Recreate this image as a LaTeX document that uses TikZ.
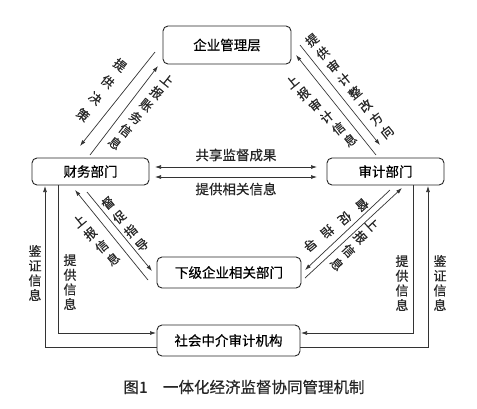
\documentclass[tikz,border=0pt]{standalone}
\usepackage{fontspec}
\setmainfont{Noto Sans CJK SC}[FakeBold=0.5]
\usetikzlibrary{arrows.meta,calc}
\newcommand\charsalong[6]{%
  \foreach \c [count=\i] in {#6} {%
    \node[lab, dlab, rotate=#4] (#1-\i) at ($(#2)!{(\i-1)/(#5-1)}!(#3)$) {\c};%
  }%
}
\begin{document}
\begin{tikzpicture}[x=1pt,y=-1pt,
  box/.style={draw=black!85, line width=0.9pt, rounded corners=5pt, inner sep=0pt, font=\fontsize{13.5}{16}\selectfont},
  conn/.style={draw=black!80, line width=0.7pt},
  arr/.style={conn, -{Latex[length=6pt,width=4pt]}},
  darr/.style={conn, {Latex[length=6pt,width=4pt]}-{Latex[length=6pt,width=4pt]}},
  lab/.style={inner sep=0pt, align=center, text=black!85},
  dlab/.style={font=\fontsize{12.5}{15}\selectfont},
  vlab/.style={font=\fontsize{13}{14.7}\selectfont},
]
\useasboundingbox (0,0) rectangle (477,408);
% boxes
\node[box, minimum width=128pt, minimum height=38pt] (mgmt) at (227,45) {企业管理层};
\node[box, minimum width=117pt, minimum height=27pt] (fin) at (90.5,171.5) {财务部门};
\node[box, minimum width=117pt, minimum height=27pt] (aud) at (385.5,171.5) {审计部门};
\node[box, minimum width=144pt, minimum height=31pt] (sub) at (229,272.5) {下级企业相关部门};
\node[box, minimum width=143pt, minimum height=31pt] (agc) at (228.5,340.5) {社会中介审计机构};
% connector end points
\coordinate (h1a) at (155,167); \coordinate (h1b) at (317,167);
\coordinate (h2a) at (155,177); \coordinate (h2b) at (317,177);
\coordinate (ul1a) at (155,52); \coordinate (ul1b) at (80,146);
\coordinate (ul2a) at (90,155); \coordinate (ul2b) at (158,66);
\coordinate (ur1a) at (300,45); \coordinate (ur1b) at (380,145);
\coordinate (ur2a) at (376,155); \coordinate (ur2b) at (296,55);
\coordinate (ll1a) at (87,192); \coordinate (ll1b) at (152,271);
\coordinate (ll2a) at (148,280); \coordinate (ll2b) at (75,190);
\coordinate (lr1a) at (390,190); \coordinate (lr1b) at (305,270);
\coordinate (lr2a) at (305,278); \coordinate (lr2b) at (402,188);
\coordinate (vl1a) at (157,347); \coordinate (vl1b) at (45,186);
\coordinate (vl2a) at (58,185); \coordinate (vl2b) at (156,333);
\coordinate (vr1a) at (413,185); \coordinate (vr1b) at (301,333);
\coordinate (vr2a) at (300,347); \coordinate (vr2b) at (428,186);
% connectors
\draw[darr] (h1a) -- (h1b);
\draw[darr] (h2a) -- (h2b);
\draw[arr] (ul1a) -- (ul1b);
\draw[arr] (ul2a) -- (ul2b);
\draw[arr] (ur1a) -- (ur1b);
\draw[arr] (ur2a) -- (ur2b);
\draw[arr] (ll1a) -- (ll1b);
\draw[arr] (ll2a) -- (ll2b);
\draw[arr] (lr1a) -- (lr1b);
\draw[arr] (lr2a) -- (lr2b);
\draw[arr] (vl1a) -| (vl1b);
\draw[arr] (vl2a) |- (vl2b);
\draw[arr] (vr1a) |- (vr1b);
\draw[arr] (vr2a) -| (vr2b);
% label anchor points (first and last character)
\coordinate (t3a) at (120,65);  \coordinate (t3b) at (83,115);
\coordinate (t4a) at (167,80);  \coordinate (t4b) at (115,143);
\coordinate (t5a) at (312,40);  \coordinate (t5b) at (387,132);
\coordinate (t6a) at (292,82);  \coordinate (t6b) at (350,140);
\coordinate (t7a) at (108,203); \coordinate (t7b) at (142,245);
\coordinate (t8a) at (79,221);  \coordinate (t8b) at (113,259);
\coordinate (t9a) at (362,205); \coordinate (t9b) at (310,245);
\coordinate (t10a) at (372,224); \coordinate (t10b) at (337,264);
% labels
\node[lab, font=\fontsize{13.5}{16}\selectfont] (t1) at (236,155) {共享监督成果};
\node[lab, font=\fontsize{13.5}{16}\selectfont] (t2) at (236,189) {提供相关信息};
\charsalong{t3}{t3a}{t3b}{-38.6}{4}{提,供,决,策}
\charsalong{t4}{t4a}{t4b}{-38.6}{6}{上,报,账,务,信,息}
\charsalong{t5}{t5a}{t5b}{38.7}{8}{提,供,审,计,整,改,方,向}
\charsalong{t6}{t6a}{t6b}{38.7}{6}{上,报,审,计,信,息}
\charsalong{t7}{t7a}{t7b}{39.5}{4}{督,促,指,导}
\charsalong{t8}{t8a}{t8b}{39.5}{4}{上,报,信,息}
\charsalong{t9}{t9a}{t9b}{-140}{4}{督,促,指,导}
\charsalong{t10}{t10a}{t10b}{-47}{4}{上,报,信,息}
\node[lab, vlab] (t11) at (35,273) {鉴\\证\\信\\息};
\node[lab, vlab] (t12) at (70,282) {提\\供\\信\\息};
\node[lab, vlab] (t13) at (402,283) {提\\供\\信\\息};
\node[lab, vlab] (t14) at (440,283) {鉴\\证\\信\\息};
% caption
\node[lab, font=\fontsize{15.5}{18}\selectfont] (cap) at (244,387) {图1\hspace{1em}一体化经济监督协同管理机制};
\end{tikzpicture}
\end{document}
